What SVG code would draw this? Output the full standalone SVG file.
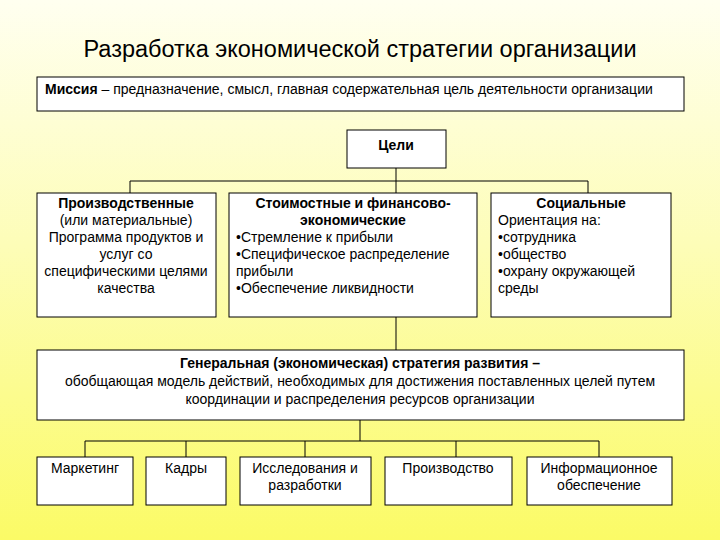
<svg xmlns="http://www.w3.org/2000/svg" width="720" height="540" viewBox="0 0 720 540">
<defs>
<linearGradient id="bg" x1="0" y1="0" x2="0" y2="1">
<stop offset="0" stop-color="#fffff0"/><stop offset="0.45" stop-color="#fdfdb8"/><stop offset="1" stop-color="#fbfb66"/>
</linearGradient>
<style>
text{font-family:"Liberation Sans",Arial,sans-serif;font-size:14px;fill:#000}
.b{font-weight:bold}
.box{fill:#fff;stroke:#000;stroke-width:1}
.c{text-anchor:middle}
.ln{stroke:#000;stroke-width:1;fill:none}
</style>
</defs>
<rect width="720" height="540" fill="url(#bg)"/>
<text x="360" y="57" class="c" style="font-size:23.5px">Разработка экономической стратегии организации</text>
<g id="connectors">
<path class="ln" d="M396 168V181M130 181H588M130 181V193M396 181V193M588 181V193"/>
<path class="ln" d="M396 317V350"/>
<path class="ln" d="M360 420V441M85 441H599M85 441V457M186 441V457M305 441V457M456 441V457M599 441V457"/>
</g>
<g id="mission"><rect class="box" x="37" y="77" width="647" height="34"/>
<text x="45" y="94"><tspan class="b">Миссия</tspan> – предназначение, смысл, главная содержательная цель деятельности организации</text></g>
<g id="goals"><rect class="box" x="347" y="130" width="99" height="38"/><text x="396" y="150" class="c b">Цели</text></g>
<g id="prod"><rect class="box" x="37" y="193" width="179" height="124"/>
<text class="c" x="126"><tspan x="126" y="208" class="b">Производственные</tspan><tspan x="126" y="225">(или материальные)</tspan><tspan x="126" y="242">Программа продуктов и</tspan><tspan x="126" y="259">услуг со</tspan><tspan x="126" y="276">специфическими целями</tspan><tspan x="126" y="293">качества</tspan></text></g>
<g id="fin"><rect class="box" x="229" y="193" width="248" height="124"/>
<text><tspan x="353" y="208" class="b c">Стоимостные и финансово-</tspan><tspan x="353" y="225" class="b c">экономические</tspan><tspan x="236" y="242">•Стремление к прибыли</tspan><tspan x="236" y="259">•Специфическое распределение</tspan><tspan x="236" y="276">прибыли</tspan><tspan x="236" y="293">•Обеспечение ликвидности</tspan></text></g>
<g id="soc"><rect class="box" x="491" y="193" width="180" height="124"/>
<text><tspan x="581" y="208" class="b c">Социальные</tspan><tspan x="498" y="225">Ориентация на:</tspan><tspan x="498" y="242">•сотрудника</tspan><tspan x="498" y="259">•общество</tspan><tspan x="498" y="276">•охрану окружающей</tspan><tspan x="498" y="293">среды</tspan></text></g>
<g id="general"><rect class="box" x="37" y="350" width="647" height="70"/>
<text class="c"><tspan x="360" y="368" class="b">Генеральная (экономическая) стратегия развития –</tspan><tspan x="360" y="386">обобщающая модель действий, необходимых для достижения поставленных целей путем</tspan><tspan x="360" y="404">координации и распределения ресурсов организации</tspan></text></g>
<g id="marketing"><rect class="box" x="37" y="457" width="96" height="48"/><text x="85" y="473" class="c">Маркетинг</text></g>
<g id="kadry"><rect class="box" x="146" y="457" width="80" height="48"/><text x="186" y="473" class="c">Кадры</text></g>
<g id="research"><rect class="box" x="240" y="457" width="131" height="48"/><text class="c"><tspan x="305" y="473">Исследования и</tspan><tspan x="305" y="490">разработки</tspan></text></g>
<g id="production"><rect class="box" x="385" y="457" width="127" height="48"/><text x="448" y="473" class="c">Производство</text></g>
<g id="info"><rect class="box" x="527" y="457" width="145" height="48"/><text class="c"><tspan x="599" y="473">Информационное</tspan><tspan x="599" y="490">обеспечение</tspan></text></g>
</svg>
